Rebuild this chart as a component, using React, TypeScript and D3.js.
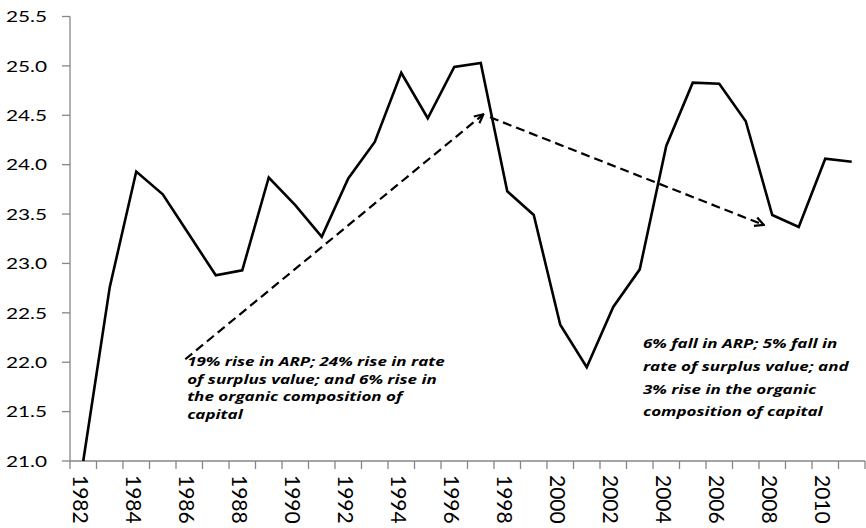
import React from 'react'
import * as d3 from 'd3'

const years = d3.range(1982, 2012)
const values = [
  21.0, 22.76, 23.93, 23.7, 23.29, 22.88, 22.93, 23.87, 23.59, 23.27,
  23.86, 24.23, 24.93, 24.47, 24.99, 25.03, 23.73, 23.49, 22.38, 21.95,
  22.56, 22.94, 24.19, 24.83, 24.82, 24.44, 23.49, 23.37, 24.06, 24.03,
]
const yTicks = d3.range(21, 25.51, 0.5)
const labelYears = years.filter(y => (y - 1982) % 2 === 0)

// arrows in data space: [year, value] -> [year, value]
const arrows = [
  { from: [1985.85, 22.03], to: [1997.1, 24.51] },
  { from: [1997.35, 24.48], to: [2007.68, 23.39] },
]

const notes = [
  {
    at: [1985.92, 21.96],
    gap: 17.5,
    lines: [
      '19% rise in ARP; 24% rise in rate',
      'of surplus value; and 6% rise in',
      'the organic composition of',
      'capital',
    ],
  },
  {
    at: [2003.12, 22.14],
    gap: 22.7,
    lines: [
      '6% fall in ARP; 5% fall in',
      'rate of surplus value; and',
      '3% rise in the organic',
      'composition of capital',
    ],
  },
]

const W = 866
const H = 528
const left = 70
const right = 865
const top = 16.5
const bottom = 461

export default function App() {
  const x = d3.scaleLinear().domain([1981.5, 2011.5]).range([left, right])
  const y = d3.scaleLinear().domain([21, 25.5]).range([bottom, top])

  const line = d3.line<number>()
    .x((_, i) => x(years[i]))
    .y(d => y(d))

  const axisColor = '#868686'

  return (
    <svg width={W} height={H} style={{ position: 'absolute', left: 0, top: 0, background: '#fff' }}>
      <defs>
        <marker id="open" viewBox="0 0 10 10" refX="9" refY="5" markerWidth="11" markerHeight="11"
          markerUnits="userSpaceOnUse" orient="auto">
          <path d="M1,1 L9,5 L1,9" fill="none" stroke="#000" strokeWidth="2" />
        </marker>
      </defs>

      {/* y axis */}
      <line x1={left} x2={left} y1={top} y2={bottom} stroke={axisColor} strokeWidth={1.3} />
      {yTicks.map(t => (
        <g key={t}>
          <line x1={left - 8} x2={left} y1={y(t)} y2={y(t)} stroke={axisColor} strokeWidth={1.3} />
          <text
            transform={`translate(47, ${y(t)}) scale(1.3, 1)`}
            textAnchor="end"
            dy="0.36em"
            fontFamily="Lato, sans-serif"
            fontSize={16}
            fill="#000"
          >
            {t.toFixed(1)}
          </text>
        </g>
      ))}

      {/* x axis */}
      <line x1={left} x2={right} y1={bottom} y2={bottom} stroke={axisColor} strokeWidth={1.3} />
      {d3.range(1981.5, 2012, 1).map(t => (
        <line key={t} x1={x(t)} x2={x(t)} y1={bottom} y2={bottom + 8} stroke={axisColor} strokeWidth={1.3} />
      ))}
      {labelYears.map(yr => (
        <text
          key={yr}
          transform={`translate(${x(yr) - 3}, 475) rotate(90)`}
          dy="0.36em"
          fontFamily="Lato, sans-serif"
          fontSize={21}
          fill="#000"
        >
          {yr}
        </text>
      ))}

      {/* series */}
      <path d={line(values) ?? ''} fill="none" stroke="#000" strokeWidth={2.6} strokeLinejoin="miter" />

      {/* arrows */}
      {arrows.map((a, i) => (
        <line
          key={i}
          x1={x(a.from[0])}
          y1={y(a.from[1])}
          x2={x(a.to[0])}
          y2={y(a.to[1])}
          stroke="#000"
          strokeWidth={2.2}
          strokeDasharray="9,5"
          markerEnd="url(#open)"
        />
      ))}

      {/* notes, stretched sideways like the rest of the picture */}
      {notes.map((n, i) => (
        <text
          key={i}
          transform={`translate(${x(n.at[0])}, ${y(n.at[1])}) scale(1.33, 1)`}
          fontFamily="'Open Sans', sans-serif"
          fontSize={12.8}
          fontWeight="bold"
          fontStyle="italic"
          fill="#000"
        >
          {n.lines.map((l, j) => (
            <tspan key={j} x={0} dy={j === 0 ? 0 : n.gap}>{l}</tspan>
          ))}
        </text>
      ))}
    </svg>
  )
}
